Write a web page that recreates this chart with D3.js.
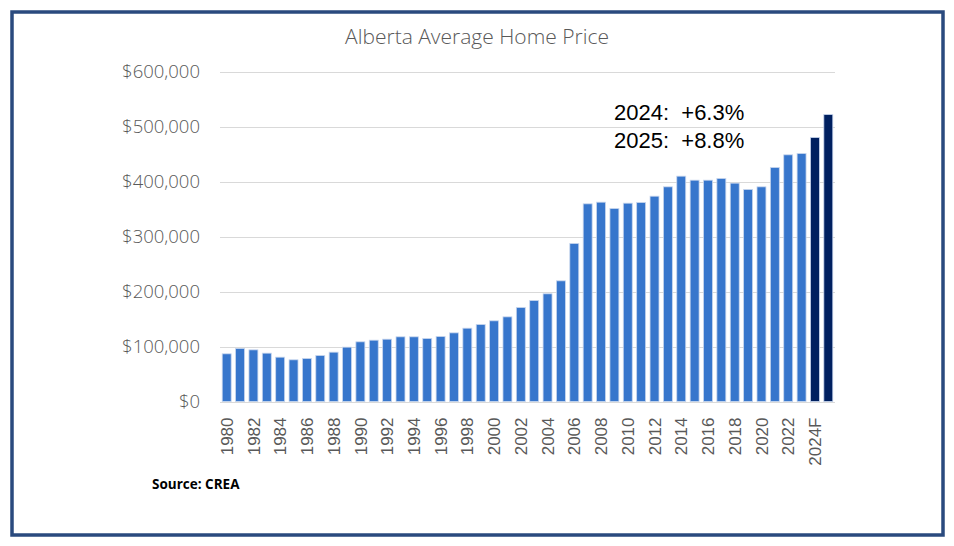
<!DOCTYPE html>
<html>
<head>
<meta charset="utf-8">
<script src="https://cdn.jsdelivr.net/npm/d3@7"></script>
<style>
  html, body { margin: 0; padding: 0; background: #ffffff; }
  svg { display: block; }
</style>
</head>
<body>
<svg id="chart" width="954" height="546"></svg>
<script>
// ---- Data ----
const categories = [
  "1980","1981","1982","1983","1984","1985","1986","1987","1988","1989",
  "1990","1991","1992","1993","1994","1995","1996","1997","1998","1999",
  "2000","2001","2002","2003","2004","2005","2006","2007","2008","2009",
  "2010","2011","2012","2013","2014","2015","2016","2017","2018","2019",
  "2020","2021","2022","2023","2024F","2025F"
];
const prices = [
  86700, 96400, 93900, 87900, 80600, 75800, 78200, 83600, 89700, 98800,
  108500, 111500, 113300, 117600, 117600, 114500, 118200, 124800, 133300, 140000,
  146700, 153900, 170900, 183600, 195800, 219400, 287300, 359400, 362400, 350900,
  360600, 361800, 373300, 390300, 409700, 402400, 402400, 405500, 397000, 385500,
  390300, 425500, 448500, 450900, 480000, 521800
];
const forecastCategories = ["2024F", "2025F"];
const yTicks = [0, 100000, 200000, 300000, 400000, 500000, 600000];
const xTickLabels = categories.filter((d, i) => i % 2 === 0);
const annotationLines = ["2024:  +6.3%", "2025:  +8.8%"];
const titleText = "Alberta Average Home Price";
const sourceText = "Source: CREA";

// ---- Layout ----
const svg = d3.select("#chart");
const plot = { left: 220, right: 835, top: 71.5, bottom: 401.5 };

// Frame border
svg.append("rect")
  .attr("x", 12).attr("y", 12)
  .attr("width", 931).attr("height", 523)
  .attr("fill", "none")
  .attr("stroke", "#2a4a7e")
  .attr("stroke-width", 3.5);

const x = d3.scaleBand()
  .domain(categories)
  .range([plot.left, plot.right])
  .paddingInner(0.33)
  .paddingOuter(0.165);

const y = d3.scaleLinear()
  .domain([0, 600000])
  .range([plot.bottom, plot.top]);

// Gridlines
svg.append("g")
  .selectAll("line")
  .data(yTicks)
  .join("line")
  .attr("x1", plot.left).attr("x2", plot.right)
  .attr("y1", d => Math.round(y(d)) + 0.5)
  .attr("y2", d => Math.round(y(d)) + 0.5)
  .attr("stroke", "#d9d9d9")
  .attr("stroke-width", 1);

// Y axis labels
const fmt = d => "$" + d3.format(",")(d);
const yAxis = d3.axisLeft(y).tickValues(yTicks).tickFormat(fmt).tickSize(0).tickPadding(20);
const gy = svg.append("g").attr("transform", `translate(${plot.left},0)`).call(yAxis);
gy.select(".domain").remove();
gy.selectAll("text")
  .attr("font-family", "'Open Sans', sans-serif")
  .attr("font-weight", 300)
  .attr("font-size", 18.5)
  .attr("fill", "#595959");

// Bars
svg.append("g")
  .selectAll("rect")
  .data(categories.map((c, i) => ({ c, v: prices[i] })))
  .join("rect")
  .attr("x", d => x(d.c))
  .attr("width", x.bandwidth())
  .attr("y", d => y(d.v))
  .attr("height", d => y(0) - y(d.v))
  .attr("fill", d => forecastCategories.includes(d.c) ? "#002060" : "#3776cc")
  .attr("stroke", "#c8d6ee")
  .attr("stroke-width", 0.8);

// X axis labels (rotated)
const xAxis = d3.axisBottom(x).tickValues(xTickLabels).tickSize(0).tickPadding(0);
const gx = svg.append("g").attr("transform", `translate(0,${plot.bottom})`).call(xAxis);
gx.select(".domain").remove();
gx.selectAll("text")
  .attr("font-family", "'Liberation Sans', Arial, sans-serif")
  .attr("font-size", 17)
  .attr("fill", "#595959")
  .attr("text-anchor", "end")
  .attr("transform", "rotate(-90)")
  .attr("x", -16)
  .attr("y", 0)
  .attr("dy", "0.36em");

// Title
svg.append("text")
  .attr("x", 477).attr("y", 44)
  .attr("text-anchor", "middle")
  .attr("font-family", "'Open Sans', sans-serif")
  .attr("font-weight", 300)
  .attr("font-size", 21)
  .attr("fill", "#595959")
  .text(titleText);

// Annotation
svg.append("g")
  .selectAll("text")
  .data(annotationLines)
  .join("text")
  .attr("x", 614)
  .attr("y", (d, i) => 120 + i * 27.5)
  .attr("font-family", "'Liberation Sans', Arial, sans-serif")
  .attr("font-size", 22)
  .attr("fill", "#000000")
  .style("white-space", "pre")
  .text(d => d);

// Source
svg.append("text")
  .attr("x", 152).attr("y", 489)
  .attr("font-family", "'Open Sans', sans-serif")
  .attr("font-weight", 700)
  .attr("font-size", 13.5)
  .attr("fill", "#000000")
  .text(sourceText);
</script>
</body>
</html>
